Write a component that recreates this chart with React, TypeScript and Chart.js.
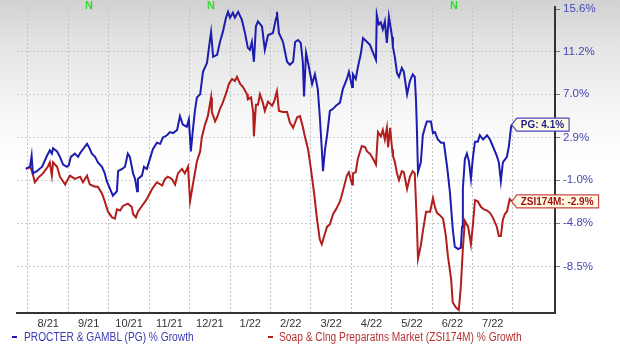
import React, { useEffect, useRef } from "react";
import { Chart, registerables } from "chart.js";

Chart.register(...registerables);

// ---- data ----
const monthLabels = ["8/21", "9/21", "10/21", "11/21", "12/21", "1/22", "2/22", "3/22", "4/22", "5/22", "6/22", "7/22"];
const yTickValues = [15.6, 11.2, 7.0, 2.9, -1.0, -4.8, -8.5];
const newsMarkers = [1.51, 4.53, 10.54];

// [months since 8/1/21, % growth]
const pgPoints: [number, number][] = [
  [-0.05, 0.0], [0.05, 0.2], [0.09, 1.2], [0.12, -0.4], [0.22, -0.2], [0.35, 0.2], [0.47, 1.2], [0.54, 1.7],
  [0.59, 1.4], [0.62, 1.9], [0.72, 1.6], [0.79, 1.1], [0.87, 0.4], [0.96, 0.2], [1.01, 0.35], [1.06, 1.1],
  [1.16, 1.4], [1.24, 1.1], [1.29, 1.45], [1.36, 1.8], [1.46, 2.3], [1.51, 2.0], [1.58, 1.4], [1.66, 1.1],
  [1.73, 0.6], [1.83, 0.2], [1.90, -0.4], [1.95, -1.1], [2.03, -1.8], [2.10, -2.4], [2.20, -2.0], [2.23, -0.2],
  [2.33, 0.0], [2.40, 0.2], [2.47, 1.4], [2.52, 1.1], [2.60, -0.4], [2.65, -0.9], [2.70, -2.0], [2.72, -0.9],
  [2.82, -0.6], [2.87, 0.2], [2.94, 0.0], [2.99, 0.6], [3.09, 1.8], [3.19, 2.4], [3.27, 2.3], [3.34, 2.9],
  [3.44, 3.1], [3.51, 3.4], [3.59, 3.3], [3.69, 3.6], [3.76, 4.9], [3.83, 4.1], [3.93, 3.9], [3.98, 4.6],
  [4.03, 1.6], [4.08, 3.6], [4.13, 5.4], [4.18, 6.7], [4.26, 7.0], [4.33, 9.2], [4.43, 10.1], [4.48, 11.7],
  [4.53, 13.2], [4.58, 10.7], [4.68, 10.9], [4.75, 12.2], [4.82, 13.2], [4.90, 14.7], [4.95, 15.3], [5.00, 14.7],
  [5.07, 15.2], [5.12, 14.7], [5.20, 15.3], [5.29, 14.5], [5.37, 13.1], [5.44, 11.6], [5.49, 11.4], [5.54, 12.2],
  [5.59, 10.2], [5.64, 13.8], [5.69, 14.3], [5.79, 13.8], [5.86, 11.4], [5.94, 12.9], [6.06, 13.1], [6.14, 14.7],
  [6.16, 15.3], [6.21, 13.1], [6.31, 12.2], [6.41, 10.2], [6.48, 9.9], [6.56, 10.2], [6.61, 12.2], [6.68, 12.4],
  [6.75, 12.1], [6.80, 10.2], [6.83, 6.8], [6.88, 11.1], [6.93, 10.1], [7.03, 8.0], [7.10, 8.95], [7.17, 7.5],
  [7.22, 4.9], [7.27, 1.8], [7.30, -0.2], [7.35, 1.8], [7.40, 3.1], [7.47, 5.4], [7.55, 5.6], [7.62, 5.9],
  [7.72, 6.2], [7.79, 7.5], [7.89, 8.5], [7.94, 9.2], [8.02, 7.7], [8.04, 8.95], [8.11, 8.5], [8.16, 9.6],
  [8.24, 11.1], [8.29, 12.6], [8.39, 12.2], [8.46, 11.9], [8.54, 11.1], [8.61, 10.4], [8.63, 15.0], [8.68, 14.0],
  [8.73, 14.2], [8.78, 13.5], [8.83, 14.3], [8.88, 12.1], [8.93, 14.8], [9.01, 12.7], [9.03, 11.7], [9.08, 10.6],
  [9.13, 9.1], [9.18, 8.7], [9.25, 9.6], [9.30, 9.2], [9.38, 7.0], [9.45, 8.3], [9.52, 8.95], [9.57, 8.7],
  [9.60, 6.5], [9.62, 4.1], [9.65, -0.3], [9.72, 0.6], [9.77, 3.1], [9.82, 3.8], [9.87, 4.4], [9.97, 4.4],
  [10.02, 3.3], [10.07, 3.4], [10.14, 2.7], [10.22, 2.4], [10.29, 2.4], [10.37, 0.2], [10.44, -2.1], [10.51, -5.3],
  [10.56, -6.8], [10.64, -7.0], [10.71, -6.9], [10.74, -5.1], [10.76, -1.8], [10.81, 0.9], [10.86, 1.4], [10.91, 0.7],
  [10.96, -0.9], [11.01, 1.1], [11.06, 2.5], [11.13, 2.5], [11.18, 3.1], [11.26, 2.7], [11.36, 3.1], [11.43, 2.7],
  [11.50, 2.1], [11.60, 1.2], [11.65, 0.6], [11.70, -1.1], [11.75, 0.6], [11.85, 1.1], [11.90, 2.1], [11.95, 3.8],
  [11.97, 4.1],
];

const zsiPoints: [number, number][] = [
  [-0.05, 0.0], [0.05, 0.2], [0.10, -0.2], [0.17, -1.2], [0.25, -0.8], [0.37, -0.4], [0.49, 0.2], [0.54, 0.6],
  [0.59, -0.6], [0.62, 0.6], [0.72, 0.2], [0.79, -0.7], [0.92, -1.4], [0.99, -0.9], [1.04, -0.6], [1.16, -0.9],
  [1.29, -0.7], [1.36, -1.2], [1.46, -0.6], [1.53, -1.4], [1.66, -1.6], [1.73, -1.6], [1.83, -2.2], [1.90, -2.9],
  [1.98, -3.8], [2.08, -4.3], [2.15, -4.4], [2.20, -3.6], [2.28, -3.7], [2.35, -3.3], [2.47, -3.1], [2.57, -3.4],
  [2.60, -4.0], [2.67, -4.3], [2.72, -3.8], [2.82, -3.3], [2.94, -2.7], [3.07, -1.8], [3.19, -1.2], [3.32, -1.5],
  [3.39, -0.9], [3.46, -0.7], [3.56, -0.9], [3.64, -1.4], [3.71, -0.4], [3.81, 0.0], [3.88, -0.4], [3.96, 0.2],
  [4.01, -2.9], [4.08, -1.4], [4.18, 0.7], [4.26, 1.6], [4.30, 2.9], [4.38, 4.1], [4.45, 4.9], [4.53, 6.7],
  [4.55, 5.3], [4.63, 4.4], [4.68, 4.8], [4.75, 5.6], [4.82, 6.2], [4.92, 7.3], [4.97, 8.0], [5.05, 8.5],
  [5.12, 8.3], [5.17, 8.7], [5.25, 8.0], [5.32, 7.7], [5.42, 7.0], [5.44, 6.5], [5.52, 6.7], [5.57, 5.3],
  [5.59, 3.0], [5.64, 6.0], [5.69, 6.0], [5.74, 7.0], [5.81, 6.2], [5.86, 5.4], [5.94, 6.3], [6.04, 5.9],
  [6.09, 6.3], [6.16, 7.3], [6.21, 5.4], [6.31, 5.3], [6.41, 5.3], [6.48, 4.3], [6.56, 3.8], [6.66, 4.8],
  [6.73, 4.9], [6.80, 3.9], [6.85, 3.0], [6.93, 1.8], [7.00, 0.0], [7.08, -2.2], [7.15, -4.4], [7.22, -6.2],
  [7.27, -6.6], [7.32, -6.0], [7.40, -5.1], [7.47, -4.9], [7.55, -4.0], [7.62, -3.6], [7.72, -2.9], [7.79, -2.0],
  [7.89, -0.6], [7.94, -0.3], [8.02, -1.4], [8.04, -0.4], [8.11, -0.3], [8.16, 0.9], [8.26, 2.1], [8.34, 2.0],
  [8.39, 1.6], [8.46, 1.4], [8.54, 0.9], [8.61, 0.4], [8.66, 3.4], [8.73, 3.0], [8.78, 3.6], [8.83, 2.7],
  [8.88, 3.8], [8.91, 2.0], [8.96, 3.8], [9.01, 1.8], [9.03, 1.2], [9.08, 0.6], [9.13, -0.4], [9.18, -1.0],
  [9.25, -0.2], [9.30, -0.3], [9.38, -1.8], [9.45, -0.7], [9.52, -0.2], [9.57, -0.4], [9.62, -4.7], [9.65, -7.8],
  [9.72, -6.7], [9.77, -5.5], [9.85, -3.8], [9.95, -3.8], [10.02, -2.6], [10.07, -3.4], [10.12, -3.9], [10.19, -4.1],
  [10.27, -4.4], [10.34, -5.9], [10.39, -7.6], [10.47, -9.5], [10.51, -11.4], [10.59, -11.8], [10.66, -12.0], [10.71, -10.1],
  [10.76, -7.0], [10.81, -4.6], [10.89, -5.1], [10.96, -6.6], [11.01, -4.9], [11.06, -2.8], [11.13, -2.9], [11.21, -3.4],
  [11.28, -3.6], [11.36, -3.7], [11.43, -3.9], [11.50, -4.3], [11.60, -5.1], [11.65, -5.9], [11.70, -5.9], [11.75, -4.5],
  [11.80, -4.0], [11.85, -3.8], [11.92, -2.7], [11.97, -2.9],
];

const pgName = "PG";
const zsiName = "ZSI174M";
const pgLegend = "PROCTER & GAMBL (PG) % Growth";
const zsiLegend = "Soap & Clng Preparatns Market (ZSI174M) % Growth";

// ---- styling ----
const BLUE = "#1c1cb0";
const RED = "#b21e1e";
const FONT = '"Liberation Sans", Arial, sans-serif';
const X_MIN = -0.272;
const X_MAX = 13.04;
const Y_MIN = 87.76;
const Y_MAX = 115.81;

const overlayPlugin = {
  id: "overlay",
  afterDraw(chart: any) {
    const ctx = chart.ctx;
    const xs = chart.scales.x;
    const ys = chart.scales.y;
    ctx.save();
    ctx.font = `bold 11px ${FONT}`;
    ctx.fillStyle = "#2fdc2f";
    ctx.textAlign = "center";
    ctx.textBaseline = "middle";
    newsMarkers.forEach((m) => ctx.fillText("N", xs.getPixelForValue(m), 6));

    const drawTag = (pts: [number, number][], name: string, border: string, textColor: string) => {
      const [m, g] = pts[pts.length - 1];
      const px = xs.getPixelForValue(m);
      const py = ys.getPixelForValue(100 + g);
      const text = `${name}: ${g.toFixed(1)}%`;
      ctx.font = `bold 10px ${FONT}`;
      const w = ctx.measureText(text).width;
      const h = 13;
      const x0 = px;
      const left = x0 + 5;
      const right = left + w + 9;
      const top = py - h / 2;
      const bottom = py + h / 2;
      ctx.beginPath();
      ctx.moveTo(x0, py);
      ctx.lineTo(left, top);
      ctx.lineTo(right, top);
      ctx.lineTo(right, bottom);
      ctx.lineTo(left, bottom);
      ctx.closePath();
      ctx.fillStyle = "#fffbe3";
      ctx.fill();
      ctx.lineWidth = 1.2;
      ctx.strokeStyle = border;
      ctx.stroke();
      ctx.fillStyle = textColor;
      ctx.textAlign = "left";
      ctx.textBaseline = "middle";
      ctx.fillText(text, left + 4, py + 0.5);
    };
    drawTag(pgPoints, pgName, "#4a4ac4", "#1e1e8c");
    drawTag(zsiPoints, zsiName, "#c84848", "#a01414");
    ctx.restore();
  },
};

export default function App() {
  const canvasRef = useRef<HTMLCanvasElement | null>(null);

  useEffect(() => {
    if (!canvasRef.current) return;
    const chart = new Chart(canvasRef.current, {
      type: "line",
      data: {
        datasets: [
          {
            label: pgLegend,
            data: pgPoints.map(([m, g]) => ({ x: m, y: 100 + g })),
            borderColor: BLUE,
            borderWidth: 2,
            pointRadius: 0,
            tension: 0,
            fill: false,
          },
          {
            label: zsiLegend,
            data: zsiPoints.map(([m, g]) => ({ x: m, y: 100 + g })),
            borderColor: RED,
            borderWidth: 2,
            pointRadius: 0,
            tension: 0,
            fill: false,
          },
        ],
      },
      options: {
        animation: false,
        responsive: false,
        layout: { padding: { left: 17, top: 7, right: 0, bottom: 0 } },
        plugins: { legend: { display: false }, tooltip: { enabled: false } },
        scales: {
          x: {
            type: "linear",
            min: X_MIN,
            max: X_MAX,
            afterBuildTicks: (s: any) => {
              const t: { value: number }[] = [];
              for (let i = 0; i <= 12; i++) {
                t.push({ value: i });
                if (i < monthLabels.length) t.push({ value: i + 0.5 });
              }
              s.ticks = t;
            },
            afterFit: (s: any) => {
              s.height = 39;
              s.paddingLeft = 0;
              s.paddingRight = 0;
            },
            grid: {
              color: (c: any) => (c.tick && Number.isInteger(c.tick.value) ? "#c4c4c4" : "rgba(0,0,0,0)"),
              drawTicks: false,
              lineWidth: 1,
            },
            border: { color: "#333333", width: 2, dash: [2, 2] },
            ticks: {
              autoSkip: false,
              maxRotation: 0,
              minRotation: 0,
              padding: 4,
              color: "#333333",
              font: { family: FONT, size: 11 },
              callback: (v: any) => {
                const n = Number(v);
                return Number.isInteger(n) ? "" : monthLabels[Math.floor(n)] ?? "";
              },
            },
          },
          y: {
            type: "logarithmic",
            position: "right",
            min: Y_MIN,
            max: Y_MAX,
            afterBuildTicks: (s: any) => {
              s.ticks = yTickValues.slice().reverse().map((v) => ({ value: 100 + v }));
            },
            afterFit: (s: any) => {
              s.width = 65;
              s.paddingTop = 0;
              s.paddingBottom = 0;
            },
            grid: { color: "#cccccc", tickColor: "#777777", tickLength: 5, lineWidth: 1 },
            border: { color: "#333333", width: 2, dash: [2, 2] },
            ticks: {
              padding: 3,
              color: "#4646b4",
              font: { family: FONT, size: 11.5 },
              callback: (v: any) => `${(Number(v) - 100).toFixed(1)}%`,
            },
          },
        },
      },
      plugins: [overlayPlugin],
    } as any);
    return () => chart.destroy();
  }, []);

  const legendText: React.CSSProperties = {
    position: "absolute",
    top: 330,
    fontFamily: FONT,
    fontSize: 12,
    lineHeight: "14px",
    whiteSpace: "nowrap",
    transform: "scaleX(0.85)",
    transformOrigin: "left center",
  };

  return (
    <div
      style={{
        position: "fixed",
        left: 0,
        top: 0,
        width: 620,
        height: 352,
        overflow: "hidden",
        background: "linear-gradient(to bottom, #d2d2d2 0px, #e4e4e4 45px, #f6f6f6 110px, #ffffff 160px)",
      }}
    >
      <canvas ref={canvasRef} width={620} height={352} style={{ position: "absolute", left: 0, top: 0 }} />
      <div style={{ position: "absolute", left: 12, top: 336, width: 5, height: 2, background: BLUE }} />
      <span style={{ ...legendText, left: 24, color: "#3c3cb4" }}>{pgLegend}</span>
      <div style={{ position: "absolute", left: 268, top: 336, width: 5, height: 2, background: RED }} />
      <span style={{ ...legendText, left: 279, color: "#b43232" }}>{zsiLegend}</span>
    </div>
  );
}
